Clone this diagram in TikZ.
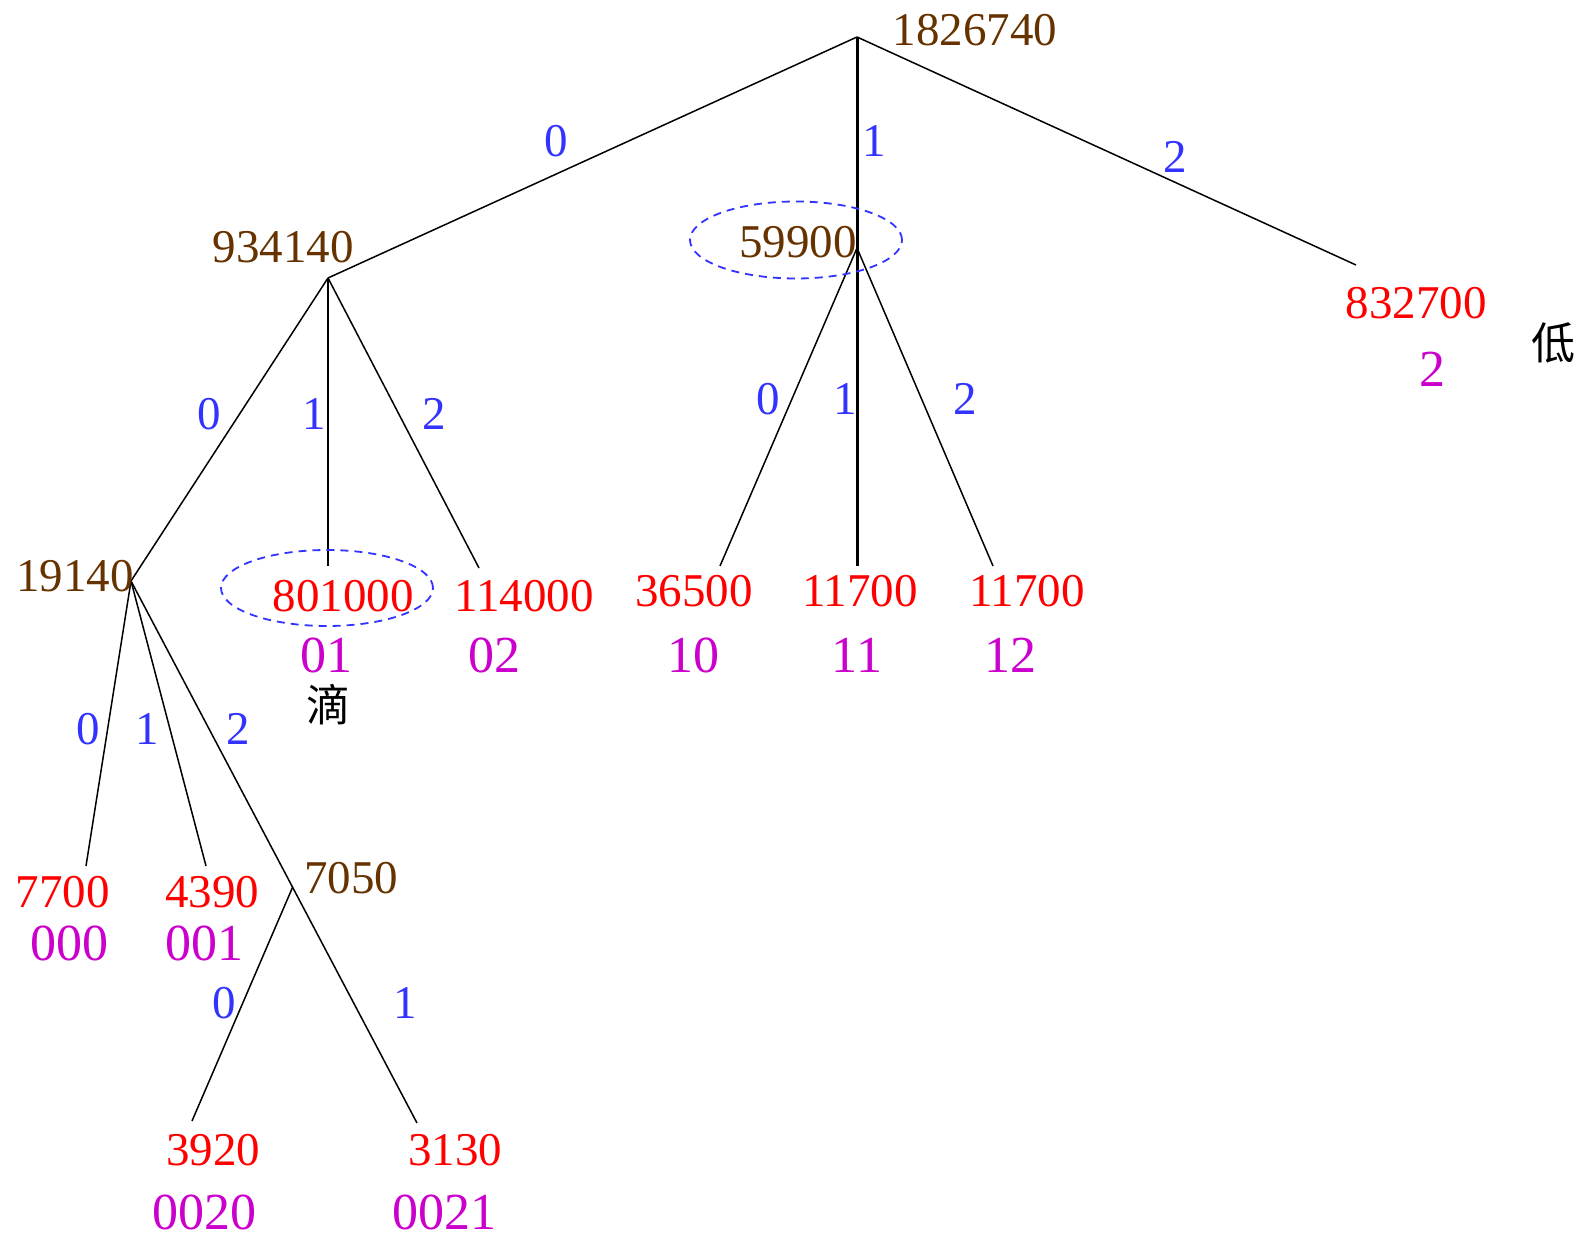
\documentclass[tikz,border=0pt]{standalone}
\usepackage{fontspec}
\setmainfont{Liberation Serif}
\newfontfamily\cjk{Noto Sans CJK SC}
\usetikzlibrary{shapes.geometric,calc}
\definecolor{brn}{RGB}{102,51,0}
\definecolor{rd}{RGB}{255,0,0}
\definecolor{bl}{RGB}{51,51,255}
\definecolor{mg}{RGB}{204,0,204}
\begin{document}
\begin{tikzpicture}[x=1pt,y=-1pt,
  txt/.style={inner sep=0pt,font=\fontsize{47}{56}\selectfont},
  inner/.style={txt,text=brn},
  leaf/.style={txt,text=rd},
  code/.style={inner sep=0pt,font=\fontsize{52}{60}\selectfont,text=mg},
  edgelab/.style={txt,text=bl},
  cj/.style={inner sep=0pt,font=\cjk\fontsize{44}{50}\selectfont},
  br/.style={draw=black,line width=1.5pt},
  thick br/.style={draw=black,line width=3pt},
  ring/.style={draw=bl,line width=1.8pt,dash pattern=on 8pt off 6pt,ellipse,inner sep=0pt}]
\useasboundingbox (0,0) rectangle (1584,1238);
% junctions
\coordinate (r) at (857,37);
\coordinate (a) at (328,278);
\coordinate (b) at (857,248);
\coordinate (c) at (1356,265);
\coordinate (d) at (131,581);
\coordinate (e) at (328,566);
\coordinate (f) at (479,568);
\coordinate (g) at (720,566);
\coordinate (h) at (857,566);
\coordinate (i) at (993,566);
\coordinate (j) at (86,866);
\coordinate (k) at (206,866);
\coordinate (m) at (417,1123);
\coordinate (l) at ($(d)!0.565!(m)$);
\coordinate (n) at (192,1121);
% branches
\draw[br] (r) -- (a);
\draw[thick br] (r) -- (b);
\draw[br] (r) -- (c);
\draw[br] (a) -- (d);
\draw[br] (a) -- (e);
\draw[br] (a) -- (f);
\draw[br] (b) -- (g);
\draw[thick br] (b) -- (h);
\draw[br] (b) -- (i);
\draw[br] (d) -- (j);
\draw[br] (d) -- (k);
\draw[br] (d) -- (m);
\draw[br] (l) -- (n);
% rings
\node[ring,minimum width=212pt,minimum height=77pt] (ring1) at (796,240) {};
\node[ring,minimum width=212pt,minimum height=76pt] (ring2) at (327,588) {};
% internal node values
\node[inner] (vr) at (975,30) {1826740};
\node[inner] (va) at (283,247) {934140};
\node[inner] (vb) at (798,242) {59900};
\node[inner] (vd) at (75,576) {19140};
\node[inner] (vl) at (351,878) {7050};
% leaf values
\node[leaf] (vc) at (1416,303) {832700};
\node[code] (cc) at (1432,369) {2};
\node[cj] (zc) at (1553,343) {低};
\node[leaf] (ve) at (343,596) {801000};
\node[code] (ce) at (326,655) {01};
\node[cj] (ze) at (328,705) {滴};
\node[leaf] (vf) at (524,596) {114000};
\node[code] (cf) at (494,655) {02};
\node[leaf] (vg) at (694,591) {36500};
\node[code] (cg) at (693,655) {10};
\node[leaf] (vh) at (860,591) {11700};
\node[code] (ch) at (857,655) {11};
\node[leaf] (vi) at (1027,591) {11700};
\node[code] (ci) at (1010,655) {12};
\node[leaf] (vj) at (63,892) {7700};
\node[code] (cj) at (69,943) {000};
\node[leaf] (vk) at (212,892) {4390};
\node[code] (ck) at (204,943) {001};
\node[leaf] (vn) at (213,1150) {3920};
\node[code] (cn) at (204,1212) {0020};
\node[leaf] (vm) at (455,1150) {3130};
\node[code] (cm) at (444,1212) {0021};
% edge labels
\node[edgelab] at (556,141) {0};
\node[edgelab] at (874,141) {1};
\node[edgelab] at (1175,157) {2};
\node[edgelab] at (209,414) {0};
\node[edgelab] at (314,414) {1};
\node[edgelab] at (434,414) {2};
\node[edgelab] at (768,399) {0};
\node[edgelab] at (845,399) {1};
\node[edgelab] at (965,399) {2};
\node[edgelab] at (88,729) {0};
\node[edgelab] at (147,729) {1};
\node[edgelab] at (238,729) {2};
\node[edgelab] at (224,1003) {0};
\node[edgelab] at (405,1003) {1};
\end{tikzpicture}
\end{document}
